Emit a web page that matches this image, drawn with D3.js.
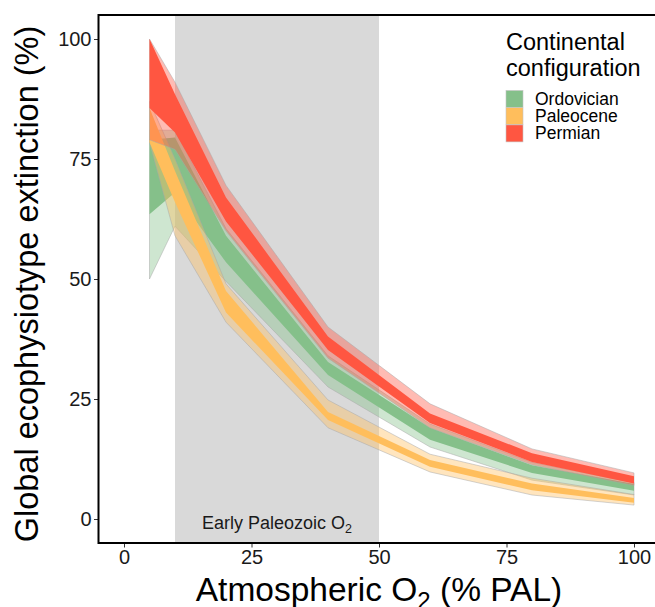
<!DOCTYPE html>
<html>
<head>
<meta charset="utf-8">
<script src="https://cdn.jsdelivr.net/npm/d3@7"></script>
<style>
  body { margin: 0; background: #fff; }
  text { font-family: "Liberation Sans", Arial, sans-serif; }
</style>
</head>
<body>
<svg id="chart" width="655" height="607"></svg>
<script>
// atmospheric O2 levels (% PAL)
var o2 = [5, 10, 20, 40, 60, 80, 100];

var configs = ["Ordovician", "Paleocene", "Permian"];
var colors = ["#85C08A", "#FFBE5C", "#FF5641"];

// outer band (light) and inner band (dark), % extinction
var ordovicianOuterLo = [50, 61, 49.5, 27.5, 15, 8.1, 5.0];
var ordovicianOuterHi = [81, 81, 60.5, 34, 19.8, 11.8, 7.6];
var ordovicianInnerLo = [63.5, 68, 53.5, 30, 16.5, 9.6, 5.9];
var ordovicianInnerHi = [79, 79.5, 59, 32.7, 19, 11.2, 7.3];

var paleoceneOuterLo = [78.5, 59, 41, 19, 9.8, 5.0, 2.9];
var paleoceneOuterHi = [87, 75, 49, 24.8, 13.5, 8.5, 5.1];
var paleoceneInnerLo = [78.5, 66, 43, 20.6, 10.9, 6.0, 3.4];
var paleoceneInnerHi = [85.6, 72.5, 47.5, 22.3, 12.3, 7.4, 4.4];

var permianOuterLo = [79, 77, 60, 33.5, 19, 11.3, 7.0];
var permianOuterHi = [100, 91, 69.5, 40, 24, 14.6, 9.6];
var permianInnerLo = [85.6, 80.5, 62, 35.2, 20, 11.9, 7.4];
var permianInnerHi = [100, 88.5, 67, 38, 22, 13.7, 8.9];

var xTicks = [0, 25, 50, 75, 100];
var yTicks = [0, 25, 50, 75, 100];
var earlyPaleozoic = [10, 50];

var bands = [
  {outer: [ordovicianOuterLo, ordovicianOuterHi], inner: [ordovicianInnerLo, ordovicianInnerHi]},
  {outer: [paleoceneOuterLo, paleoceneOuterHi], inner: [paleoceneInnerLo, paleoceneInnerHi]},
  {outer: [permianOuterLo, permianOuterHi], inner: [permianInnerLo, permianInnerHi]}
];

var svg = d3.select('#chart');

var pLeft = 98.5, pRight = 659.5, pTop = 15, pBottom = 543;

var x = d3.scaleLinear().domain([-5, 105]).range([pLeft, pRight]);
var y = d3.scaleLinear().domain([-5, 105]).range([pBottom, pTop]);

svg.append('defs').append('clipPath')
    .attr('id', 'panel')
    .append('rect')
    .attr('x', pLeft).attr('y', pTop)
    .attr('width', pRight - pLeft).attr('height', pBottom - pTop);

var plot = svg.append('g').attr('clip-path', 'url(#panel)');

plot.append('rect')
    .attr('x', x(earlyPaleozoic[0]))
    .attr('y', pTop)
    .attr('width', x(earlyPaleozoic[1]) - x(earlyPaleozoic[0]))
    .attr('height', pBottom - pTop)
    .attr('fill', '#D9D9D9');

var note = plot.append('text')
    .attr('x', x(30))
    .attr('y', 529)
    .attr('text-anchor', 'middle')
    .attr('font-size', 18)
    .attr('fill', '#1a1a1a');
note.append('tspan').text('Early Paleozoic O');
note.append('tspan').attr('font-size', 12.5).attr('dy', 4).text('2');

var area = function(lo, hi) {
  return d3.area()
      .x(function(d, i) { return x(o2[i]); })
      .y0(function(d, i) { return y(lo[i]); })
      .y1(function(d, i) { return y(hi[i]); })(o2);
};

bands.forEach(function(b, k) {
  plot.append('path')
      .attr('d', area(b.outer[0], b.outer[1]))
      .attr('fill', colors[k])
      .attr('fill-opacity', 0.4)
      .attr('stroke', '#a8a8a8')
      .attr('stroke-width', 0.5);
  plot.append('path')
      .attr('d', area(b.inner[0], b.inner[1]))
      .attr('fill', colors[k]);
});

// axes
var yAxis = svg.append('g')
    .attr('transform', 'translate(' + pLeft + ',0)')
    .call(d3.axisLeft(y).tickValues(yTicks).tickSize(4.5).tickPadding(2.5));
var xAxis = svg.append('g')
    .attr('transform', 'translate(0,' + pBottom + ')')
    .call(d3.axisBottom(x).tickValues(xTicks).tickSize(4.5).tickPadding(2.5));

[xAxis, yAxis].forEach(function(a) {
  a.select('.domain').remove();
  a.selectAll('line').attr('stroke', '#333').attr('stroke-width', 1);
  a.selectAll('text')
      .attr('font-size', 20)
      .attr('fill', '#1a1a1a')
      .style('font-family', '"Liberation Sans", Arial, sans-serif');
});

svg.append('rect')
    .attr('x', pLeft).attr('y', pTop)
    .attr('width', pRight - pLeft).attr('height', pBottom - pTop)
    .attr('fill', 'none')
    .attr('stroke', '#000')
    .attr('stroke-width', 2);

// titles
var xt = svg.append('text')
    .attr('x', 379)
    .attr('y', 601)
    .attr('text-anchor', 'middle')
    .attr('font-size', 33.5)
    .attr('fill', '#000');
xt.append('tspan').text('Atmospheric O');
xt.append('tspan').attr('font-size', 24).attr('dy', 8).text('2');
xt.append('tspan').attr('dy', -8).text(' (% PAL)');

svg.append('text')
    .attr('transform', 'translate(38,' + 284 + ') rotate(-90)')
    .attr('text-anchor', 'middle')
    .attr('font-size', 32.5)
    .attr('fill', '#000')
    .text('Global ecophysiotype extinction (%)');

// legend
var legend = svg.append('g');
legend.append('text')
    .attr('x', 506)
    .attr('y', 50)
    .attr('font-size', 23.5)
    .attr('fill', '#000')
    .text('Continental');
legend.append('text')
    .attr('x', 506)
    .attr('y', 76)
    .attr('font-size', 23.5)
    .attr('fill', '#000')
    .text('configuration');

var keys = legend.selectAll('g.key')
    .data(configs)
    .enter().append('g')
    .attr('class', 'key')
    .attr('transform', function(d, i) { return 'translate(506,' + (90.5 + i * 17.2) + ')'; });

keys.append('rect')
    .attr('width', 17).attr('height', 17)
    .attr('fill', function(d, i) { return colors[i]; })
    .attr('stroke', '#c4c4c4')
    .attr('stroke-width', 0.6);

keys.append('text')
    .attr('x', 29)
    .attr('y', 14.5)
    .attr('font-size', 17.5)
    .attr('fill', '#000')
    .text(function(d) { return d; });
</script>
</body>
</html>
